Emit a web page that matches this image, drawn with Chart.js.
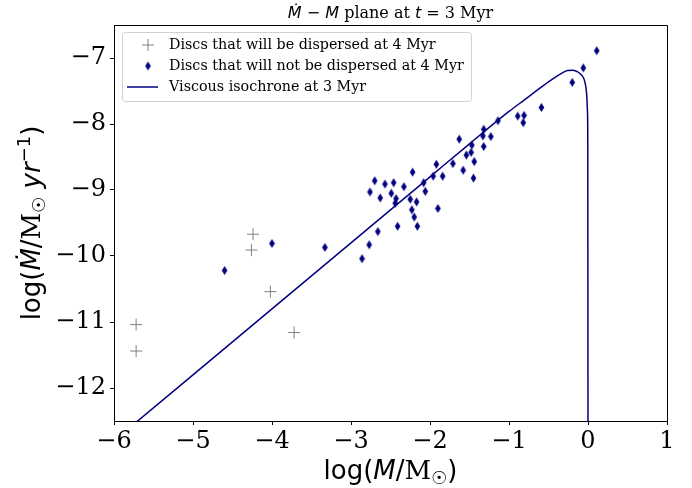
<!DOCTYPE html>
<html>
<head>
<meta charset="utf-8">
<script src="https://cdn.jsdelivr.net/npm/chart.js@4.4.1/dist/chart.umd.min.js"></script>
<style>
  html, body { margin: 0; padding: 0; background: #fff; }
</style>
</head>
<body>
<canvas id="mdotPlane" width="692" height="488"></canvas>
<script>
// discs dispersed by 4 Myr (grey crosses)
const dispersedLogM = [-5.72, -5.72, -4.24, -4.26, -4.02, -3.72];
const dispersedLogMdot = [-11.04, -11.44, -9.67, -9.91, -10.54, -11.16];

// discs still there at 4 Myr (navy diamonds)
const survivingLogM = [
    -4.60, -4.00, -3.33, -2.86, -2.77, -2.66, -2.41, -2.70, -2.76, -2.57,
    -2.63, -2.49, -2.46, -2.43, -2.44, -2.33, -2.22, -2.25, -2.17, -2.23,
    -2.20, -2.16, -2.08, -2.06, -1.96, -1.92, -1.90, -1.84, -1.71, -1.63,
    -1.58, -1.54, -1.48, -1.47, -1.45, -1.44, -1.33, -1.32, -1.32, -1.23,
    -1.14, -0.89, -0.81, -0.82, -0.59, -0.20, -0.06, 0.11
];
const survivingLogMdot = [
    -10.22, -9.81, -9.87, -10.04, -9.83, -9.63, -9.55, -8.86, -9.03, -8.91,
    -9.12, -9.05, -8.89, -9.13, -9.20, -8.95, -8.73, -9.14, -9.18, -9.30,
    -9.41, -9.55, -8.89, -9.02, -8.79, -8.61, -9.28, -8.79, -8.60, -8.23,
    -8.70, -8.47, -8.43, -8.32, -8.82, -8.57, -8.18, -8.08, -8.34, -8.19,
    -7.95, -7.88, -7.87, -7.98, -7.75, -7.37, -7.15, -6.89
];

// viscous isochrone at 3 Myr
const isoLogM = [
    -5.80, -5.00, -4.00, -3.00, -2.00, -1.50, -1.00, -0.80, -0.60, -0.45,
    -0.33, -0.26, -0.19, -0.13, -0.08, -0.05, -0.03, -0.015, -0.007, -0.003, 0.0
];
const isoLogMdot = [
    -12.60, -11.80, -10.80, -9.80, -8.80, -8.30, -7.81, -7.63, -7.45, -7.32,
    -7.23, -7.19, -7.185, -7.21, -7.26, -7.32, -7.42, -7.58, -7.80, -8.20, -12.60
];

const xTickValues = [-6, -5, -4, -3, -2, -1, 0, 1];
const yTickValues = [-12, -11, -10, -9, -8, -7];

const NAVY = '#000080';
const GREY = '#808080';

const SANS = '"DejaVu Sans"';
const SERIF = '"DejaVu Serif"';

function pairUp(xs, ys) {
    return xs.map((x, i) => ({ x: x, y: ys[i] }));
}

// thin diamond like matplotlib's 'd' marker
function thinDiamond(color) {
    const c = document.createElement('canvas');
    c.width = 7;
    c.height = 11;
    const g = c.getContext('2d');
    g.fillStyle = color;
    g.beginPath();
    g.moveTo(3.5, 1);
    g.lineTo(6.3, 5.5);
    g.lineTo(3.5, 10);
    g.lineTo(0.7, 5.5);
    g.closePath();
    g.fill();
    return c;
}
const diamondImg = thinDiamond(NAVY);

function minusSign(v) {
    return String(v).replace('-', '\u2212');
}

// mathtext-ish labels: [text, font, baseline shift]
const titleParts = [
    ['\u1E40', 'italic 16px ' + SANS, 0],
    [' \u2212 ', '16px ' + SANS, 0],
    ['M', 'italic 16px ' + SANS, 0],
    [' plane at ', '16px ' + SERIF, 0],
    ['t', 'italic 16px ' + SANS, 0],
    [' = ', '16px ' + SANS, 0],
    ['3 Myr', '16px ' + SERIF, 0],
];
const xLabelParts = [
    ['log(', '26px ' + SANS, 0],
    ['M', 'italic 26px ' + SANS, 0],
    ['/', '26px ' + SANS, 0],
    ['M', '26px ' + SERIF, 0],
    ['\u2609', '18px ' + SANS, 5],
    [')', '26px ' + SANS, 0],
];
const yLabelParts = [
    ['log(', '26px ' + SANS, 0],
    ['\u1E40', 'italic 26px ' + SANS, 0],
    ['/', '26px ' + SANS, 0],
    ['M', '26px ' + SERIF, 0],
    ['\u2609', '18px ' + SANS, 5],
    [' ', '26px ' + SANS, 0],
    ['yr', 'italic 26px ' + SANS, 0],
    ['\u22121', '18px ' + SANS, -10],
    [')', '26px ' + SANS, 0],
];

function drawParts(ctx, parts, cx, cy, size, rot) {
    ctx.save();
    ctx.translate(cx, cy);
    ctx.rotate(rot);
    ctx.fillStyle = '#000';
    ctx.textBaseline = 'alphabetic';
    ctx.textAlign = 'left';
    let total = 0;
    parts.forEach((p) => { ctx.font = p[1]; total += ctx.measureText(p[0]).width; });
    let x = -total / 2;
    const base = size * 0.35;
    parts.forEach((p) => {
        ctx.font = p[1];
        ctx.fillText(p[0], x, base + p[2]);
        x += ctx.measureText(p[0]).width;
    });
    ctx.restore();
}

const mathLabels = {
    id: 'mathLabels',
    afterDraw(chart) {
        const { ctx } = chart;
        const { left, right } = chart.chartArea;
        const mid = (left + right) / 2;
        drawParts(ctx, titleParts, mid, 12, 16, 0);
        drawParts(ctx, xLabelParts, mid, 470, 26, 0);
        drawParts(ctx, yLabelParts, 31, (chart.chartArea.top + chart.chartArea.bottom) / 2, 26, -Math.PI / 2);
    },
};

// top + right spines
const frameBox = {
    id: 'frameBox',
    afterDraw(chart) {
        const { ctx } = chart;
        const { left, right, top, bottom } = chart.chartArea;
        ctx.save();
        ctx.strokeStyle = '#000';
        ctx.lineWidth = 1;
        ctx.beginPath();
        ctx.moveTo(left, top + 0.5);
        ctx.lineTo(right + 0.5, top + 0.5);
        ctx.lineTo(right + 0.5, bottom);
        ctx.stroke();
        ctx.restore();
    },
};

// legend drawn inside the axes, upper left
const insideLegend = {
    id: 'insideLegend',
    afterDatasetsDraw(chart) {
        const { ctx } = chart;
        const { left, top } = chart.chartArea;
        const ds = chart.data.datasets;
        const bx = left + 8, by = top + 7, bw = 349, bh = 69;
        ctx.save();
        ctx.fillStyle = 'rgba(255,255,255,0.8)';
        ctx.strokeStyle = '#d0d0d0';
        ctx.lineWidth = 1;
        ctx.beginPath();
        ctx.roundRect(bx + 0.5, by + 0.5, bw, bh, 3);
        ctx.fill();
        ctx.stroke();

        const mx = left + 34;
        const tx = left + 55;
        const rows = [top + 20, top + 41, top + 62];

        // cross
        ctx.strokeStyle = GREY;
        ctx.beginPath();
        ctx.moveTo(mx - 6, rows[0]);
        ctx.lineTo(mx + 6, rows[0]);
        ctx.moveTo(mx, rows[0] - 6);
        ctx.lineTo(mx, rows[0] + 6);
        ctx.stroke();
        // diamond
        ctx.drawImage(diamondImg, mx - 3.5, rows[1] - 5.5);
        // line
        ctx.strokeStyle = NAVY;
        ctx.lineWidth = 1.5;
        ctx.beginPath();
        ctx.moveTo(left + 13, rows[2]);
        ctx.lineTo(left + 44, rows[2]);
        ctx.stroke();

        ctx.fillStyle = '#000';
        ctx.font = '14.3px ' + SERIF;
        ctx.textBaseline = 'middle';
        ctx.textAlign = 'left';
        ds.forEach((d, i) => ctx.fillText(d.label, tx, rows[i]));
        ctx.restore();
    },
};

new Chart(document.getElementById('mdotPlane'), {
    type: 'scatter',
    data: {
        datasets: [
            {
                label: 'Discs that will be dispersed at 4 Myr',
                data: pairUp(dispersedLogM, dispersedLogMdot),
                pointStyle: 'cross',
                pointRadius: 6,
                pointBorderColor: GREY,
                pointBorderWidth: 1,
                order: 2,
            },
            {
                label: 'Discs that will not be dispersed at 4 Myr',
                data: pairUp(survivingLogM, survivingLogMdot),
                pointStyle: diamondImg,
                pointRadius: 5,
                order: 1,
            },
            {
                label: 'Viscous isochrone at 3 Myr',
                type: 'line',
                data: pairUp(isoLogM, isoLogMdot),
                borderColor: NAVY,
                borderWidth: 1.5,
                pointRadius: 0,
                fill: false,
                cubicInterpolationMode: 'monotone',
                order: 3,
            },
        ],
    },
    options: {
        responsive: false,
        animation: false,
        devicePixelRatio: 1,
        layout: {
            padding: { top: 25, right: 25, bottom: 0, left: 0 },
        },
        plugins: {
            legend: { display: false },
            tooltip: { enabled: false },
            title: { display: false },
        },
        scales: {
            x: {
                type: 'linear',
                min: -6,
                max: 1,
                afterFit: (scale) => { scale.height = 67; },
                afterBuildTicks: (scale) => {
                    scale.ticks = xTickValues.map((v) => ({ value: v }));
                },
                ticks: {
                    color: '#000',
                    padding: 2,
                    maxRotation: 0,
                    font: { family: SERIF, size: 24 },
                    callback: minusSign,
                },
                grid: {
                    drawOnChartArea: false,
                    tickLength: 4,
                    tickColor: '#000',
                },
                border: { color: '#000', width: 1 },
            },
            y: {
                type: 'linear',
                min: -12.5,
                max: -6.5,
                afterFit: (scale) => { scale.width = 114; },
                afterBuildTicks: (scale) => {
                    scale.ticks = yTickValues.map((v) => ({ value: v }));
                },
                ticks: {
                    color: '#000',
                    padding: 4,
                    font: { family: SERIF, size: 24 },
                    callback: minusSign,
                },
                grid: {
                    drawOnChartArea: false,
                    tickLength: 4,
                    tickColor: '#000',
                },
                border: { color: '#000', width: 1 },
            },
        },
    },
    plugins: [insideLegend, frameBox, mathLabels],
});
</script>
</body>
</html>
